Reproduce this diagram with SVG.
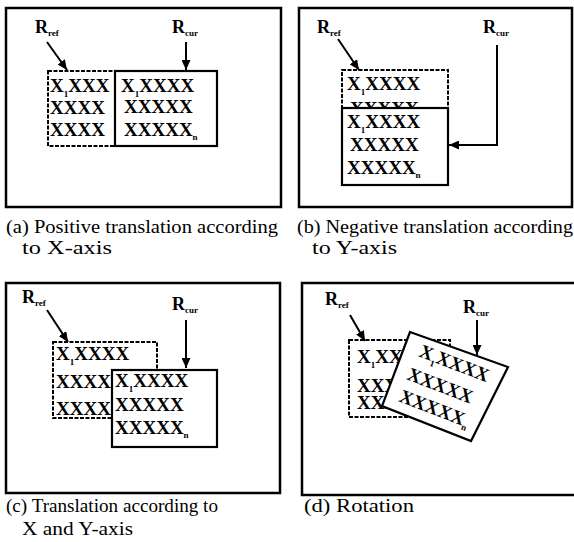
<svg xmlns="http://www.w3.org/2000/svg" width="574" height="542" viewBox="0 0 574 542">
  <style>
    .frame { fill: none; stroke: #000; stroke-width: 2.5; }
    .cur { fill: #fff; stroke: #000; stroke-width: 2.2; }
    .ref { fill: #fff; stroke: #000; stroke-width: 2; stroke-dasharray: 4 1.5; }
    .arrow { fill: none; stroke: #000; stroke-width: 2; marker-end: url(#head); }
    text { font-family: "Liberation Serif", "Times New Roman", serif; fill: #000; }
    .cells { font-size: 19px; font-weight: bold; }
    .lbl { font-size: 18px; font-weight: bold; }
    .cap { font-size: 19.5px; }
    .sub { font-size: 9px; font-weight: bold; }
  </style>
  <defs>
    <marker id="head" markerUnits="userSpaceOnUse" markerWidth="11" markerHeight="9" refX="10" refY="4.5" orient="auto">
      <path d="M0,0 L10,4.5 L0,9 Z" fill="#000"/>
    </marker>
  </defs>

  <!-- (a) positive translation along X -->
  <g id="panel-a">
    <rect class="frame" x="6" y="8" width="275" height="199"/>
    <g id="a-ref">
      <rect class="ref" x="48" y="71" width="67" height="75"/>
      <text class="cells" x="50" y="92">X<tspan class="sub" dy="5">1</tspan><tspan dy="-5">XXX</tspan></text>
      <text class="cells" x="50" y="114">XXXX</text>
      <text class="cells" x="50" y="136">XXXX</text>
    </g>
    <g id="a-cur">
      <rect class="cur" x="115" y="71" width="102" height="75" fill="none"/>
      <text class="cells" x="121" y="92">X<tspan class="sub" dy="5">1</tspan><tspan dy="-5">XXXX</tspan></text>
      <text class="cells" x="124" y="113">XXXXX</text>
      <text class="cells" x="124" y="136">XXXXX<tspan class="sub" dy="4">n</tspan></text>
    </g>
    <text class="lbl" x="35" y="33">R<tspan class="sub" dy="3">ref</tspan></text>
    <text class="lbl" x="172" y="33">R<tspan class="sub" dy="3">cur</tspan></text>
  </g>

  <!-- (b) negative translation along Y -->
  <g id="panel-b">
    <rect class="frame" x="299" y="8" width="273" height="199"/>
    <g id="b-ref">
      <rect class="ref" x="342" y="70" width="106" height="40"/>
      <text class="cells" x="347" y="90">X<tspan class="sub" dy="5">1</tspan><tspan dy="-5">XXXX</tspan></text>
      <text class="cells" x="350" y="115">XXXXX</text>
    </g>
    <g id="b-cur">
      <rect class="cur" x="342" y="108" width="106" height="77"/>
      <text class="cells" x="347" y="128">X<tspan class="sub" dy="5">1</tspan><tspan dy="-5">XXXX</tspan></text>
      <text class="cells" x="350" y="151">XXXXX</text>
      <text class="cells" x="347" y="174">XXXXX<tspan class="sub" dy="4">n</tspan></text>
    </g>
    <text class="lbl" x="317" y="33">R<tspan class="sub" dy="3">ref</tspan></text>
    <text class="lbl" x="483" y="33">R<tspan class="sub" dy="3">cur</tspan></text>
  </g>

  <!-- (c) translation along X and Y -->
  <g id="panel-c">
    <rect class="frame" x="6" y="283" width="274" height="210"/>
    <g id="c-ref">
      <rect class="ref" x="53" y="342" width="104" height="76"/>
      <text class="cells" x="56" y="360">X<tspan class="sub" dy="5">1</tspan><tspan dy="-5">XXXX</tspan></text>
      <text class="cells" x="56" y="388">XXXXX</text>
      <text class="cells" x="56" y="415">XXXXX</text>
    </g>
    <g id="c-cur">
      <rect class="cur" x="112" y="370" width="105" height="77"/>
      <text class="cells" x="115" y="387">X<tspan class="sub" dy="5">1</tspan><tspan dy="-5">XXXX</tspan></text>
      <text class="cells" x="115" y="411">XXXXX</text>
      <text class="cells" x="115" y="434">XXXXX<tspan class="sub" dy="4">n</tspan></text>
    </g>
    <text class="lbl" x="22" y="303">R<tspan class="sub" dy="3">ref</tspan></text>
    <text class="lbl" x="172" y="310">R<tspan class="sub" dy="3">cur</tspan></text>
  </g>

  <!-- (d) rotation -->
  <g id="panel-d">
    <rect class="frame" x="302" y="283" width="280" height="212"/>
    <g id="d-ref">
      <rect class="ref" x="349" y="340" width="101" height="77"/>
      <text class="cells" x="357" y="363">X<tspan class="sub" dy="5">1</tspan><tspan dy="-5">XXXX</tspan></text>
      <text class="cells" x="357" y="392">XXXXX</text>
      <text class="cells" x="357" y="409">XXXXX</text>
    </g>
    <g id="d-cur">
      <polygon class="cur" points="410,332 508,367 471,441 382,406"/>
      <text class="cells" transform="translate(418,356) rotate(21)">X<tspan class="sub" dy="5">1</tspan><tspan dy="-5">XXXX</tspan></text>
      <text class="cells" transform="translate(406,379) rotate(21)">XXXXX</text>
      <text class="cells" transform="translate(398,401) rotate(21)">XXXXX<tspan class="sub" dy="4">n</tspan></text>
    </g>
    <text class="lbl" x="325" y="305">R<tspan class="sub" dy="3">ref</tspan></text>
    <text class="lbl" x="463" y="313">R<tspan class="sub" dy="3">cur</tspan></text>
  </g>

  <!-- connectors: label pointers -->
  <g id="connectors">
    <line class="arrow" x1="47" y1="42" x2="67" y2="70"/>
    <line class="arrow" x1="186" y1="42" x2="186" y2="70"/>
    <line class="arrow" x1="338" y1="39" x2="359" y2="70"/>
    <polyline class="arrow" points="497,45 497,145 449,145"/>
    <line class="arrow" x1="47" y1="310" x2="68" y2="342"/>
    <line class="arrow" x1="186" y1="320" x2="186" y2="368"/>
    <line class="arrow" x1="350" y1="315" x2="365" y2="341"/>
    <line class="arrow" x1="477" y1="320" x2="477" y2="355"/>
  </g>

  <!-- captions -->
  <g id="captions">
    <text class="cap" x="6" y="233" textLength="272" lengthAdjust="spacingAndGlyphs">(a) Positive translation according</text>
    <text class="cap" x="22" y="254" textLength="90" lengthAdjust="spacingAndGlyphs">to X-axis</text>
    <text class="cap" x="297" y="233" textLength="276" lengthAdjust="spacingAndGlyphs">(b) Negative translation according</text>
    <text class="cap" x="312" y="254" textLength="85" lengthAdjust="spacingAndGlyphs">to Y-axis</text>
    <text class="cap" x="6" y="512" textLength="212" lengthAdjust="spacingAndGlyphs">(c) Translation according to</text>
    <text class="cap" x="22" y="535" textLength="111" lengthAdjust="spacingAndGlyphs">X and Y-axis</text>
    <text class="cap" x="304" y="512" textLength="110" lengthAdjust="spacingAndGlyphs">(d) Rotation</text>
  </g>
</svg>
